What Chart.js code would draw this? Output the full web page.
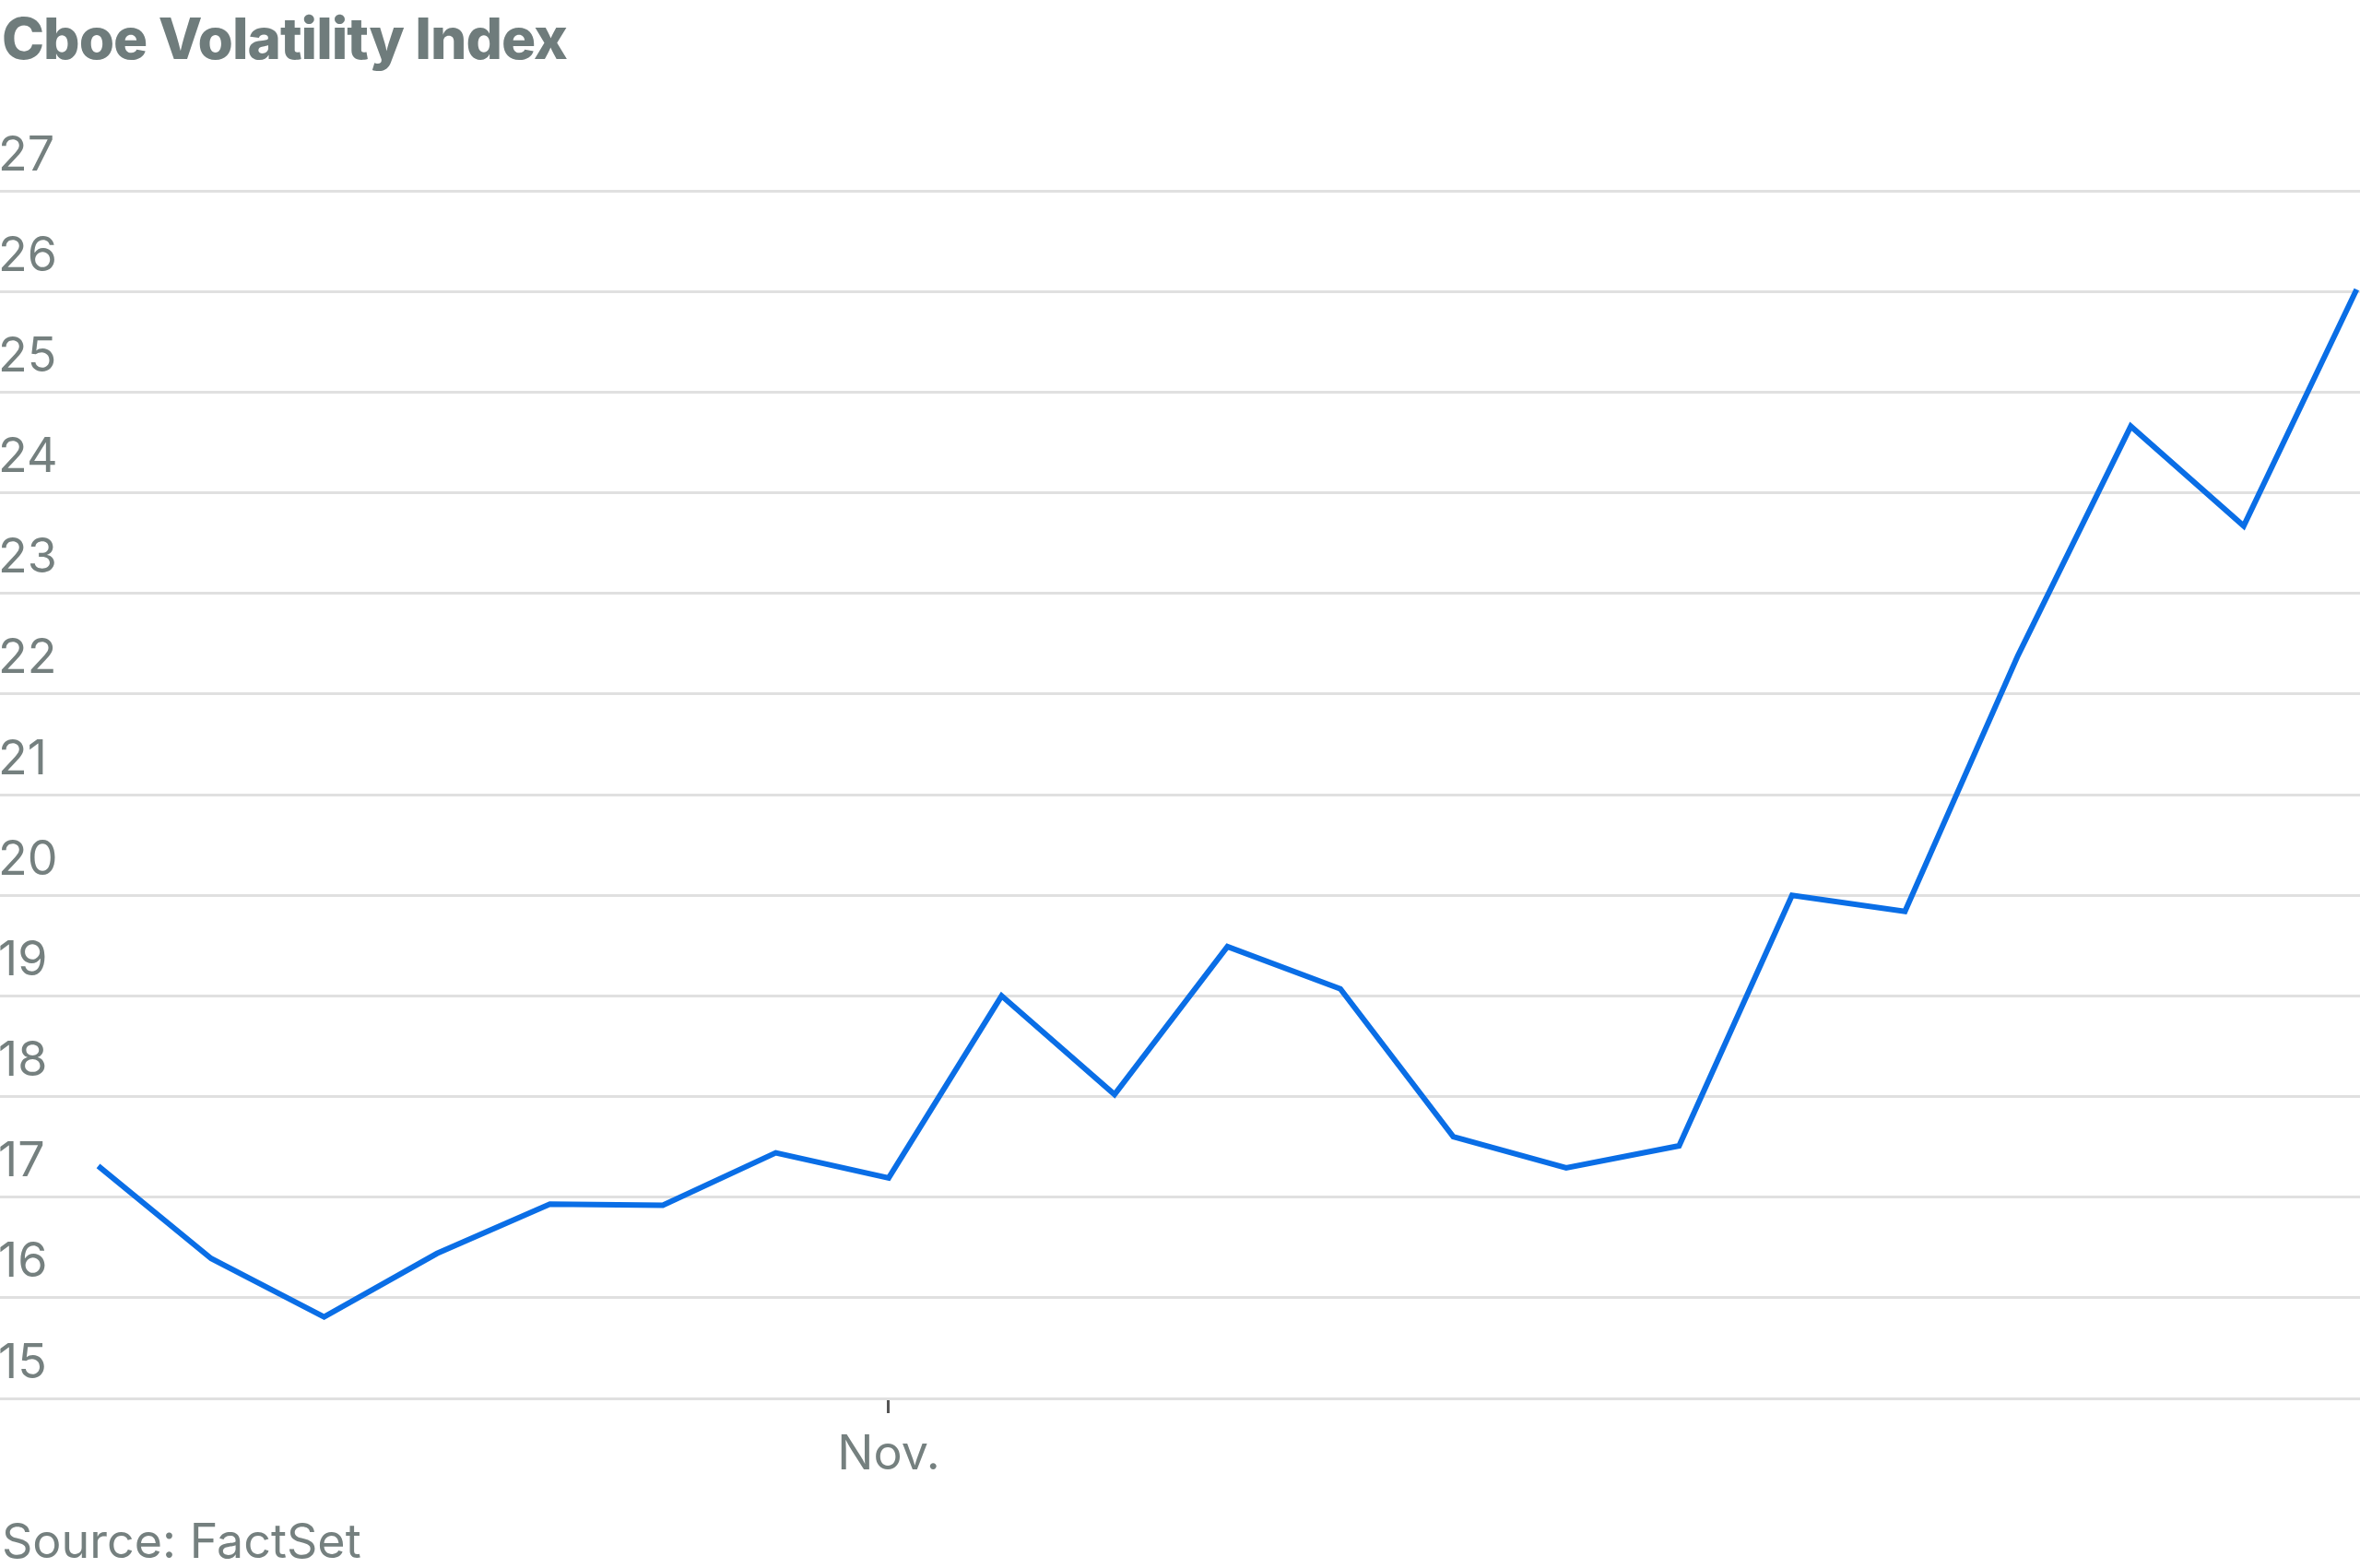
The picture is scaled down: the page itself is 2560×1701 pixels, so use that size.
<!DOCTYPE html>
<html>
<head>
<meta charset="utf-8">
<script src="https://cdn.jsdelivr.net/npm/chart.js@4"></script>
<style>
  html, body { margin: 0; padding: 0; background: #fff; width: 2560px; height: 1701px; overflow: hidden; }
  #wrap { position: absolute; left: 0; top: 0; width: 2560px; height: 1701px; }
  .title { position: absolute; left: 2px; top: 4px; font-family: 'Inter', 'Roboto', sans-serif; font-weight: 800; font-size: 62px; color: #6f7c7c; letter-spacing: -1px; }
  .source { position: absolute; left: 2px; top: 1640px; font-family: 'Inter', 'Roboto', sans-serif; font-size: 52px; color: #75807f; }
</style>
</head>
<body>
<div id="wrap"><canvas id="vix"></canvas></div>
<div class="title">Cboe Volatility Index</div>
<div class="source">Source: FactSet</div>
<script>
// daily closes, index 7 = Nov. 1
const values = [17.31, 16.39, 15.81, 16.44, 16.93, 16.92, 17.44, 17.19, 19.00, 18.02, 19.49,
                19.07, 17.60, 17.29, 17.51, 20.00, 19.84, 22.38, 24.66, 23.67, 26.02];
const yTicks = [15, 16, 17, 18, 19, 20, 21, 22, 23, 24, 25, 26, 27];
const xTickPos = 7;
const xTickLabel = 'Nov.';

const grey = '#75807f';
const font = { family: "'Inter', 'Roboto', sans-serif", size: 52 };

new Chart(document.getElementById('vix'), {
    type: 'line',
    data: {
        datasets: [{
            data: values.map((v, i) => ({ x: i, y: v })),
            borderColor: '#0a6ee6',
            borderWidth: 6,
            pointRadius: 0,
            tension: 0,
            clip: false
        }]
    },
    options: {
        responsive: true,
        maintainAspectRatio: false,
        animation: false,
        layout: { padding: { top: 207, left: 0, right: 0 } },
        plugins: { legend: { display: false }, tooltip: { enabled: false } },
        scales: {
            x: {
                type: 'linear',
                min: -0.87,
                max: 20.03,
                afterBuildTicks: s => { s.ticks = [{ value: xTickPos }]; },
                afterFit: s => { s.height = 184; },
                ticks: { callback: () => xTickLabel, color: grey, font, padding: 14, maxRotation: 0 },
                grid: { drawOnChartArea: false, drawTicks: true, tickLength: 16, color: '#555', lineWidth: 3 },
                border: { display: false }
            },
            y: {
                min: 15,
                max: 27,
                afterBuildTicks: s => { s.ticks = yTicks.map(v => ({ value: v })); },
                afterFit: s => { s.width = 0; },
                ticks: { mirror: true, color: grey, font, padding: -2, labelOffset: -38 },
                grid: { color: '#e0e0e0', lineWidth: 3, drawTicks: false },
                border: { display: false }
            }
        }
    }
});
</script>
</body>
</html>
